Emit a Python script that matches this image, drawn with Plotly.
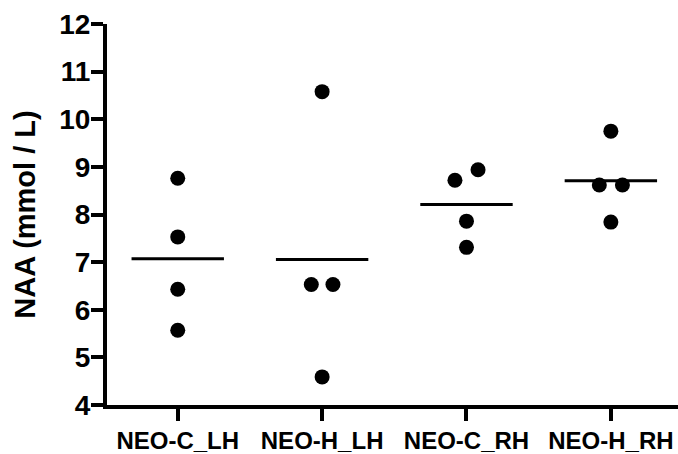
import numpy as np
import plotly.graph_objects as go

categories = ["NEO-C_LH", "NEO-H_LH", "NEO-C_RH", "NEO-H_RH"]
neo_c_lh = [8.76, 7.53, 6.43, 5.57]
neo_h_lh = [10.58, 6.53, 6.53, 4.59]
neo_c_rh = [8.94, 8.72, 7.86, 7.31]
neo_h_rh = [9.75, 8.62, 8.62, 7.84]
series = [neo_c_lh, neo_h_lh, neo_c_rh, neo_h_rh]
y_ticks = [4, 5, 6, 7, 8, 9, 10, 11, 12]

# horizontal spread for overlapping points (category units)
spread = [
    [0, 0, 0, 0],
    [0, -0.075, 0.075, 0],
    [0.08, -0.08, 0, 0],
    [0, -0.08, 0.08, 0],
]
half_w = 0.32

FONT = "Liberation Sans, Arial, Helvetica, sans-serif"

fig = go.Figure()
xs, ys = [], []
for i, vals in enumerate(series):
    for v, d in zip(vals, spread[i]):
        xs.append(i + d)
        ys.append(v)
fig.add_trace(go.Scatter(x=xs, y=ys, mode="markers",
                         marker=dict(color="black", size=15),
                         showlegend=False, hoverinfo="y"))

mx, my = [], []
for i, vals in enumerate(series):
    m = float(np.mean(vals))
    mx += [i - half_w, i + half_w, None]
    my += [m, m, None]
fig.add_trace(go.Scatter(x=mx, y=my, mode="lines",
                         line=dict(color="black", width=3),
                         showlegend=False, hoverinfo="skip"))

fig.update_layout(
    width=678, height=454,
    margin=dict(l=107, r=0, t=24, b=44),
    plot_bgcolor="white", paper_bgcolor="white",
    font=dict(family=FONT, color="black"),
)
fig.update_xaxes(
    range=[-0.49, 3.465], tickmode="array", tickvals=list(range(len(categories))),
    ticktext=["<b>%s</b>" % c for c in categories],
    tickfont=dict(size=24, family=FONT, color="black"),
    showgrid=False, zeroline=False, showline=True, linecolor="black", linewidth=4,
    ticks="outside", ticklen=12, tickwidth=4, tickcolor="black",
    ticklabelstandoff=-1,
)
fig.update_yaxes(
    range=[4, 12], tickmode="array", tickvals=y_ticks,
    ticktext=["<b>%d</b>" % t for t in y_ticks],
    tickfont=dict(size=28, family=FONT, color="black"),
    showgrid=False, zeroline=False, showline=True, linecolor="black", linewidth=4,
    ticks="outside", ticklen=12, tickwidth=4, tickcolor="black",
    ticklabelstandoff=-5,
    title=dict(text="<b>NAA (mmol / L)</b>", font=dict(size=29, family=FONT, color="black"),
               standoff=16),
)
fig.write_html("out.html")
